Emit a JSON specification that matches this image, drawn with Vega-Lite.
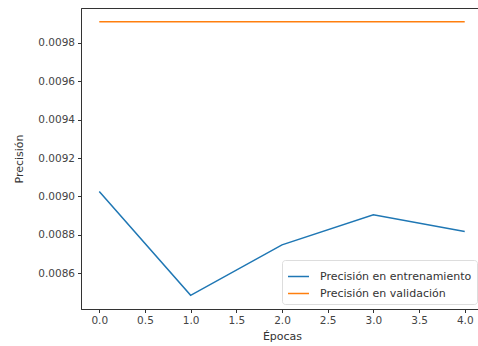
{
  "$schema": "https://vega.github.io/schema/vega-lite/v6.json",
  "autosize": "none",
  "width": 402,
  "height": 301,
  "padding": {"left": 81, "top": 8, "right": 0, "bottom": 37},
  "background": "white",
  "config": {
    "font": "DejaVu Sans",
    "view": {"stroke": "#333", "strokeWidth": 1},
    "axis": {
      "grid": false,
      "domainColor": "#333",
      "tickColor": "#333",
      "tickSize": 3.5,
      "labelColor": "#444",
      "labelFontSize": 10.5,
      "labelFont": "DejaVu Sans",
      "titleFont": "DejaVu Sans",
      "titleFontSize": 11,
      "titleFontWeight": "normal",
      "titleColor": "#333"
    }
  },
  "data": {
    "values": [
      {"epoca": 0, "serie": "Precisión en entrenamiento", "valor": 0.009026},
      {"epoca": 1, "serie": "Precisión en entrenamiento", "valor": 0.008485},
      {"epoca": 2, "serie": "Precisión en entrenamiento", "valor": 0.008748},
      {"epoca": 3, "serie": "Precisión en entrenamiento", "valor": 0.008905},
      {"epoca": 4, "serie": "Precisión en entrenamiento", "valor": 0.008818},
      {"epoca": 0, "serie": "Precisión en validación", "valor": 0.00991},
      {"epoca": 1, "serie": "Precisión en validación", "valor": 0.00991},
      {"epoca": 2, "serie": "Precisión en validación", "valor": 0.00991},
      {"epoca": 3, "serie": "Precisión en validación", "valor": 0.00991},
      {"epoca": 4, "serie": "Precisión en validación", "valor": 0.00991}
    ]
  },
  "mark": {"type": "line", "strokeWidth": 1.5, "clip": true},
  "encoding": {
    "x": {
      "field": "epoca",
      "type": "quantitative",
      "title": "Épocas",
      "scale": {"domain": [-0.2, 4.2], "nice": false, "zero": false},
      "axis": {"values": [0, 0.5, 1, 1.5, 2, 2.5, 3, 3.5, 4], "format": ".1f", "labelPadding": 3, "titlePadding": 4}
    },
    "y": {
      "field": "valor",
      "type": "quantitative",
      "title": "Precisión",
      "scale": {"domain": [0.008414, 0.009981], "nice": false, "zero": false},
      "axis": {"values": [0.0086, 0.0088, 0.009, 0.0092, 0.0094, 0.0096, 0.0098], "format": ".4f", "labelPadding": 3, "titlePadding": 13}
    },
    "color": {
      "field": "serie",
      "type": "nominal",
      "scale": {"domain": ["Precisión en entrenamiento", "Precisión en validación"], "range": ["#1f77b4", "#ff7f0e"]},
      "legend": {
        "title": null,
        "orient": "none",
        "legendX": 201,
        "legendY": 252,
        "symbolType": "stroke",
        "symbolSize": 441,
        "symbolStrokeWidth": 1.5,
        "labelFontSize": 11,
        "labelColor": "#333",
        "labelOffset": 10,
        "rowPadding": -4,
        "padding": 5,
        "fillColor": "white",
        "strokeColor": "#ddd",
        "cornerRadius": 3
      }
    }
  }
}
